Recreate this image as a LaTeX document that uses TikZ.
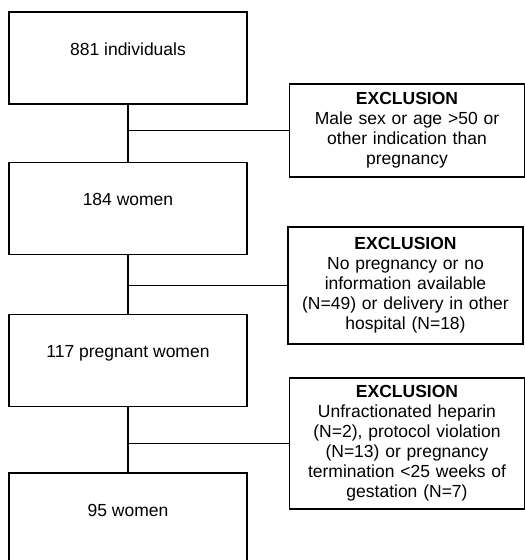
\documentclass[tikz,border=0pt]{standalone}
\usepackage{fontspec}
\setmainfont{Liberation Sans}

\begin{document}
\begin{tikzpicture}
  [x=1pt, y=-1pt, font=\fontsize{17.5}{20}\selectfont,
  stage/.style={draw, line width=1.1pt, minimum width=238pt, inner ysep=0pt,
    text height=43pt, text depth=49pt},
  excl/.style={draw, line width=1.1pt, minimum width=232pt, text width=228pt, align=center},
  link/.style={line width=1.1pt}]
  \clip (0,0) rectangle (525,560);
  % main column
  \node[stage] (all) at (128,58) {881 individuals};
  \node[stage] (women) at (128,208.5) {184 women};
  \node[stage] (preg) at (128,360.5) {117 pregnant women};
  \node[stage] (final) at (128,519) {95 women};
  % exclusion boxes
  \node[excl, minimum height=93pt] (exA) at (407,130.5)
    {\textbf{EXCLUSION}\\Male sex or age >50 or\\other indication than\\pregnancy};
  \node[excl, minimum height=117pt, minimum width=235pt] (exB) at (405.5,285.5)
    {\textbf{EXCLUSION}\\No pregnancy or no\\information available\\(N=49) or delivery in other\\hospital (N=18)};
  \node[excl, minimum height=131pt] (exC) at (407,443.5)
    {\textbf{EXCLUSION}\\Unfractionated heparin\\(N=2), protocol violation\\(N=13) or pregnancy\\termination <25 weeks of\\gestation (N=7)};
  % connectors
  \draw[link] (all) -- (women);
  \draw[link] (women) -- (preg);
  \draw[link] (preg) -- (final);
  \draw[link] (exA.west) -- (exA.west -| all);
  \draw[link] (exB.west) -- (exB.west -| women);
  \draw[link] (exC.west) -- (exC.west -| preg);
\end{tikzpicture}
\end{document}
